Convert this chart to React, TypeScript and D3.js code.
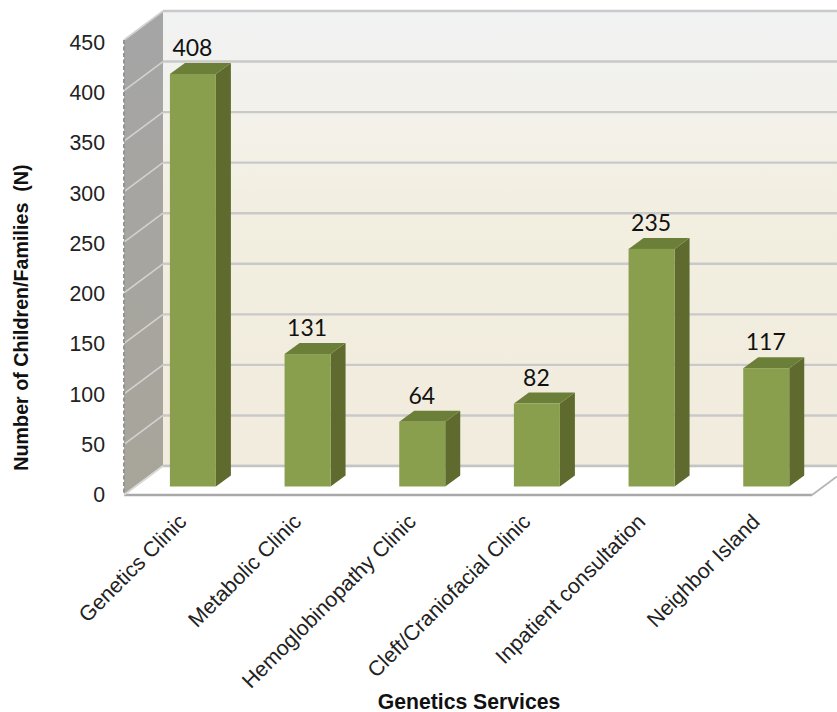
import React from "react";
import * as d3 from "d3";

const categories = [
  "Genetics Clinic",
  "Metabolic Clinic",
  "Hemoglobinopathy Clinic",
  "Cleft/Craniofacial Clinic",
  "Inpatient consultation",
  "Neighbor Island",
];
const counts = [408, 131, 64, 82, 235, 117];
const axisTicks = [0, 50, 100, 150, 200, 250, 300, 350, 400, 450];

const SANS = "'Liberation Sans', Arial, sans-serif";
const NUMERALS = "Lato, 'Open Sans', sans-serif";

// Oblique projection: the back wall is offset from the front plane by (wallDx, -wallDy)
const wallDx = 39;
const wallDy = 29;
const barDx = 15;
const barDy = 11;
const barWidth = 46;

const yBack = d3.scaleLinear().domain([0, 450]).range([466, 11]);
const yFront = d3.scaleLinear().domain([0, 450]).range([495, 40]);
const yBar = d3.scaleLinear().domain([0, 450]).range([486.5, 31.5]);
const yTickText = d3.scaleLinear().domain([0, 450]).range([502, 50]);
const x = d3.scaleBand<string>().domain(categories).range([135.5, 823.5]).paddingInner(0.6).paddingOuter(0.3);

const frontLeft = 124;
const backLeft = frontLeft + wallDx;
const frontRight = 812;
const width = 837;
const height = 712;

const poly = (pts: [number, number][]) => pts.map((p) => p.join(",")).join(" ");

export default function App() {
  return (
    <svg
      width={width}
      height={height}
      style={{ position: "absolute", left: 0, top: 0, background: "#fff" }}
    >
      <defs>
        <linearGradient id="wallBack" x1="0" y1="0" x2="0" y2="1">
          <stop offset="0" stopColor="#f1f2f3" />
          <stop offset="0.28" stopColor="#f3f1e8" />
          <stop offset="0.45" stopColor="#f2eee0" />
          <stop offset="1" stopColor="#f1ecdd" />
        </linearGradient>
        <linearGradient id="wallSide" x1="0" y1="0" x2="0" y2="1">
          <stop offset="0" stopColor="#a5a5a6" />
          <stop offset="1" stopColor="#a8a59a" />
        </linearGradient>
      </defs>

      <rect x={backLeft} y={yBack(450)} width={width - backLeft} height={yBack(0) - yBack(450)} fill="url(#wallBack)" />
      <polygon
        points={poly([
          [frontLeft, yFront(450)],
          [backLeft, yBack(450)],
          [backLeft, yBack(0)],
          [frontLeft, yFront(0)],
        ])}
        fill="url(#wallSide)"
      />

      {axisTicks.map((t) => (
        <g key={t} stroke="#c9c9c9" fill="none">
          <line x1={backLeft} x2={width} y1={yBack(t)} y2={yBack(t)} strokeWidth={2.4} />
          <line x1={frontLeft} y1={yFront(t)} x2={backLeft} y2={yBack(t)} strokeWidth={1.6} stroke="#d2d2d0" />
        </g>
      ))}

      {/* Floor plane with its front and right edges */}
      <polygon
        points={poly([
          [frontLeft, yFront(0)],
          [backLeft, yBack(0)],
          [width, yBack(0)],
          [width, yFront(0) - ((width - frontRight) * wallDy) / wallDx],
          [frontRight, yFront(0)],
        ])}
        fill="#fff"
      />
      <line x1={backLeft} x2={width} y1={yBack(0)} y2={yBack(0)} stroke="#c4c4c4" strokeWidth={2.4} />
      <line x1={frontLeft} x2={frontRight} y1={yFront(0)} y2={yFront(0)} stroke="#a9a9a9" strokeWidth={2.4} />
      <line
        x1={frontRight}
        y1={yFront(0)}
        x2={width}
        y2={yFront(0) - ((width - frontRight) * wallDy) / wallDx}
        stroke="#b5b5b5"
        strokeWidth={1.8}
      />
      <line x1={frontLeft} y1={yFront(0)} x2={backLeft} y2={yBack(0)} stroke="#d8d8d6" strokeWidth={1.6} />
      <line x1={frontLeft} y1={yFront(450)} x2={frontLeft} y2={yFront(0)} stroke="#949494" strokeWidth={2} strokeDasharray="4 2.5" />

      {categories.map((c, i) => {
        const left = x(c)!;
        const right = left + barWidth;
        const top = yBar(counts[i]);
        const base = yBar(0);
        return (
          <g key={c}>
            <polygon
              points={poly([
                [right, top],
                [right + barDx, top - barDy],
                [right + barDx, base - barDy],
                [right, base],
              ])}
              fill="#5f6b2e"
            />
            <polygon
              points={poly([
                [left, top],
                [left + barDx, top - barDy],
                [right + barDx, top - barDy],
                [right, top],
              ])}
              fill="#6c7f38"
            />
            <rect x={left} y={top} width={barWidth} height={base - top} fill="#8a9f4e" />
            <text
              x={left + barWidth / 2 - 0.5}
              y={top - 18}
              textAnchor="middle"
              fontFamily={NUMERALS}
              fontSize={23}
              fill="#111"
            >
              {counts[i]}
            </text>
            <text
              transform={`translate(${left + barWidth / 2 - 5},${yFront(0) + 28}) rotate(-45)`}
              textAnchor="end"
              fontFamily={SANS}
              fontSize={21.3}
              fill="#222"
            >
              {c}
            </text>
          </g>
        );
      })}

      {axisTicks.map((t) => (
        <text
          key={t}
          x={105}
          y={yTickText(t)}
          textAnchor="end"
          fontFamily={SANS}
          fontSize={21.3}
          fill="#222"
        >
          {t}
        </text>
      ))}

      <text
        transform="translate(28,317.5) rotate(-90)"
        textAnchor="middle"
        fontFamily={SANS}
        fontWeight="bold"
        fontSize={19.7}
        fill="#111"
        xmlSpace="preserve"
      >
        Number of Children/Families  (N)
      </text>
      <text
        x={469}
        y={709}
        textAnchor="middle"
        fontFamily={SANS}
        fontWeight="bold"
        fontSize={21.2}
        fill="#111"
      >
        Genetics Services
      </text>
    </svg>
  );
}
